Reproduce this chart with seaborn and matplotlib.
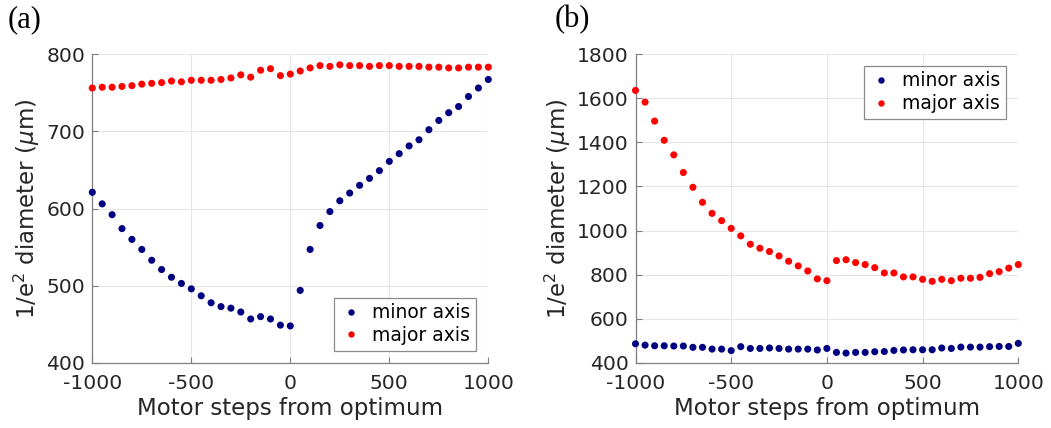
import numpy as np
import pandas as pd
import matplotlib
matplotlib.use("Agg")
import matplotlib.pyplot as plt
import seaborn as sns

# Motor positions (steps from optimum)
steps = list(range(-1000, 1001, 50))

# (a) beam diameters, first scan
a_minor = [621, 606, 592, 574, 560, 547, 533, 521, 511, 503,
           496, 487, 478, 473, 471, 466, 457, 460, 457, 449,
           448, 494, 547, 578, 596, 610, 620, 630, 639, 649,
           661, 671, 681, 689, 702, 714, 724, 732, 745, 756, 767]
a_major = [756, 757, 757, 758, 759, 761, 762, 763, 765, 764,
           766, 766, 766, 767, 769, 773, 770, 779, 781, 772,
           774, 778, 782, 785, 784, 786, 785, 785, 784, 785,
           785, 784, 784, 784, 783, 783, 782, 782, 783, 783, 783]

# (b) beam diameters, second scan
b_minor = [487, 481, 478, 478, 477, 477, 471, 471, 463, 463,
           456, 474, 466, 466, 468, 466, 463, 463, 463, 459,
           466, 448, 445, 448, 448, 451, 452, 457, 459, 460,
           460, 460, 468, 466, 472, 472, 472, 474, 475, 475, 489]
b_major = [1635, 1582, 1496, 1409, 1343, 1263, 1196, 1128, 1078, 1045,
           1010, 976, 938, 920, 905, 885, 861, 840, 817, 781,
           773, 864, 868, 855, 846, 832, 808, 808, 790, 790,
           779, 770, 779, 773, 784, 784, 788, 805, 814, 830, 846]

series_names = ["minor axis", "major axis"]
series_colors = {"minor axis": "#000080", "major axis": "#ff0000"}

x_ticks = [-1000, -500, 0, 500, 1000]
a_yticks = [400, 500, 600, 700, 800]
b_yticks = [400, 600, 800, 1000, 1200, 1400, 1600, 1800]


def long_frame(minor, major):
    return pd.DataFrame({
        "steps": steps * 2,
        "diameter": minor + major,
        "series": [series_names[0]] * len(steps) + [series_names[1]] * len(steps),
    })


sns.set_theme(style="white")
plt.rcParams["font.family"] = ["DejaVu Sans"]
plt.rcParams["mathtext.fontset"] = "dejavusans"

W, H = 1051, 428
fig = plt.figure(figsize=(W / 100, H / 100), dpi=100)
ax_a = fig.add_axes([92.3 / W, (H - 363) / H, 396 / W, 309 / H])
ax_b = fig.add_axes([635.5 / W, (H - 363) / H, 382.8 / W, 309 / H])

axis_gray = "#7f7f7f"
text_gray = "#262626"


def draw_panel(ax, df, yticks, legend_loc, legend_anchor):
    sns.scatterplot(data=df, x="steps", y="diameter", hue="series",
                    palette=series_colors, hue_order=series_names,
                    s=26, linewidth=0, ax=ax, clip_on=False, zorder=3)
    ax.set_xlim(-1000, 1000)
    ax.set_ylim(yticks[0], yticks[-1])
    ax.set_xticks(x_ticks)
    ax.set_xticklabels([str(v) for v in x_ticks])
    ax.set_yticks(yticks)
    ax.grid(True, color="#e6e6e6", linewidth=0.8, zorder=0)
    ax.set_axisbelow(True)
    for side in ("top", "right"):
        ax.spines[side].set_visible(False)
    for side in ("left", "bottom"):
        ax.spines[side].set_color(axis_gray)
        ax.spines[side].set_linewidth(0.9)
    ax.tick_params(axis="both", direction="in", length=4, width=0.8,
                   color=axis_gray, labelcolor=text_gray, labelsize=14.6,
                   left=True, bottom=True)
    ax.tick_params(axis="x", pad=8)
    ax.tick_params(axis="y", pad=5)
    ax.set_xlabel("Motor steps from optimum", fontsize=16.5, color=text_gray,
                  labelpad=3)
    ax.set_ylabel(r"1/e$^{2}$ diameter ($\mu$m)", fontsize=16.5,
                  color=text_gray, labelpad=3)
    leg = ax.legend(loc=legend_loc, bbox_to_anchor=legend_anchor,
                    borderaxespad=0, fontsize=13.5, frameon=True,
                    fancybox=False, edgecolor="#8a8a8a", framealpha=1,
                    handletextpad=0.5, borderpad=0.3, labelspacing=0.2,
                    handlelength=1.2, markerscale=0.9)
    leg.get_frame().set_linewidth(0.9)
    for t in leg.get_texts():
        t.set_color("#000000")


draw_panel(ax_a, long_frame(a_minor, a_major), a_yticks,
           "lower right", (0.968, 0.040))
draw_panel(ax_b, long_frame(b_minor, b_major), b_yticks,
           "upper right", (0.967, 0.962))

fig.text(8 / W, 1 - 20 / H, "(a)", fontsize=22, family="Liberation Serif",
         va="center", ha="left", color="black")
fig.text(555 / W, 1 - 20 / H, "(b)", fontsize=22, family="Liberation Serif",
         va="center", ha="left", color="black")

fig.savefig("out.png", dpi=100, facecolor="white")
